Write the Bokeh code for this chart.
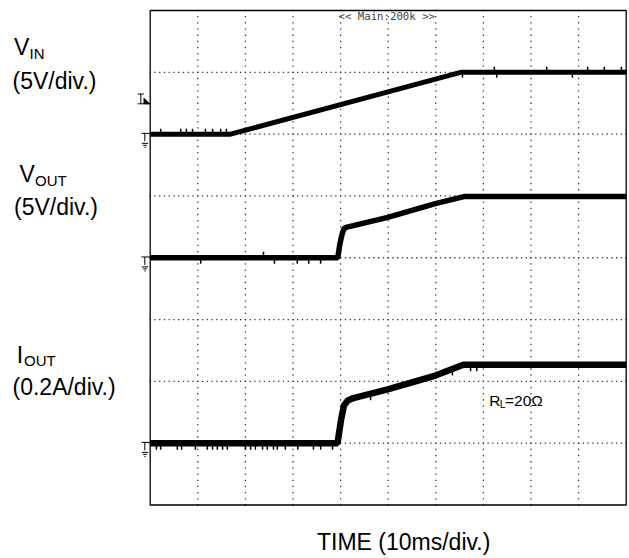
import numpy as np
from bokeh.plotting import figure
from bokeh.models import Range1d, Label
from bokeh.embed import file_html
from bokeh.resources import INLINE

# ---------------- data ----------------
# time in ms (10 ms/div), VIN / VOUT in volts (5 V/div), IOUT in amps (0.2 A/div)
vin_t = [0.0, 16.9, 65.2, 100.0]
vin_v = [0.0, 0.0, 5.0, 5.0]

vout_t = [0.0, 39.4, 39.85, 40.3, 40.7, 41.5, 42.7, 49.9, 59.9, 65.9, 100.0]
vout_v = [0.0, 0.0, 1.13, 1.9, 2.36, 2.5, 2.6, 3.27, 4.38, 4.95, 4.95]

iout_t = [0.0, 39.35, 40.1, 40.7, 41.5, 42.7, 49.9, 59.9, 65.8, 100.0]
iout_a = [0.0, 0.0, 0.076, 0.122, 0.138, 0.146, 0.174, 0.219, 0.254, 0.254]

# noise spikes on the traces: time (ms) and direction (+1 up, -1 down)
vin_spike_t = [2.2, 6.4, 7.6, 8.9, 11.6, 13.1, 14.8, 16.0, 72.3, 83.3, 91.9, 95.4, 99.0, 65.6, 72.8, 88.7]
vin_spike_d = [1, 1, 1, 1, 1, 1, 1, 1, 1, 1, 1, 1, 1, -1, -1, -1]
vout_spike_t = [10.6, 23.8, 26.1, 30.9, 33.3, 35.8]
vout_spike_d = [-1, 1, -1, -1, -1, -1]
iout_spike_t = [1.3, 2.2, 5.7, 6.6, 9.5, 12.0, 13.1, 14.1, 15.2, 16.2, 20.0, 21.1, 22.1,
                23.6, 24.6, 25.9, 26.7, 28.4, 31.0, 34.3, 35.8, 38.3, 46.3, 63.5, 67.3, 68.6]
iout_spike_d = [-1] * 26

# channel settings: (zero level in divisions from bottom, units per division)
vin_zero, vin_scale = 6.0, 5.0
vout_zero, vout_scale = 4.0, 5.0
iout_zero, iout_scale = 1.0, 0.2

# ---------------- layout ----------------
W, H = 628, 557
OFF = 0               # page offset of the figure
PX_MS = 4.76          # pixels per ms
PX_DIV = 61.81        # pixels per vertical division
FL, FB = 149.7, 504.5  # frame left / bottom in page pixels


def tx(px):  # page x -> ms
    return (px - FL) / PX_MS


def dy(py):  # page y -> divisions
    return (FB - py) / PX_DIV


x0, x1 = tx(OFF), tx(OFF + W)
y0, y1 = dy(OFF + H), dy(OFF)

p = figure(width=W, height=H, output_backend="svg", toolbar_location=None,
           x_range=Range1d(x0, x1), y_range=Range1d(y0, y1),
           min_border=0, outline_line_color=None)
p.axis.visible = False
p.grid.visible = False
p.background_fill_color = "white"
p.border_fill_color = "white"

for name, z, s in [("vin", vin_zero, vin_scale), ("vout", vout_zero, vout_scale),
                   ("iout", iout_zero, iout_scale)]:
    p.extra_y_ranges[name] = Range1d((y0 - z) * s, (y1 - z) * s)

# grid dots
gx, gy = [], []
for d in range(1, 8):
    tt = np.arange(0, 100.001, 1.0)
    gx += list(tt)
    gy += [d] * len(tt)
for t in range(10, 100, 10):
    dd = np.arange(0, 8.001, 0.1)
    gx += [t] * len(dd)
    gy += list(dd)
p.scatter(gx, gy, marker="square", size=1.3, color="#333333", line_color=None)

# frame
p.quad(left=0, right=100, bottom=0, top=8, fill_color=None, line_color="black", line_width=1.3)

# traces
p.line(vin_t, vin_v, y_range_name="vin", line_color="black", line_width=5)
p.line(vout_t, vout_v, y_range_name="vout", line_color="black", line_width=5.5)
p.line(iout_t, iout_a, y_range_name="iout", line_color="black", line_width=6.5)

# spikes
for name, st, sd, tt, vv, s, L in [("vin", vin_spike_t, vin_spike_d, vin_t, vin_v, vin_scale, 5.5),
                                  ("vout", vout_spike_t, vout_spike_d, vout_t, vout_v, vout_scale, 6),
                                  ("iout", iout_spike_t, iout_spike_d, iout_t, iout_a, iout_scale, 6.5)]:
    base = np.interp(st, tt, vv)
    off = np.array(sd) * L * s / PX_DIV
    p.segment(x0=st, y0=base, x1=st, y1=base + off, y_range_name=name,
              line_color="black", line_width=1.5)

# ground markers at each channel zero level
for z in [vin_zero, vout_zero, iout_zero]:
    zy = z + 0.8 / PX_DIV
    p.segment(x0=[tx(141), tx(144.3), tx(141.3), tx(142.6), tx(143.9)],
              y0=[zy, zy, zy - 10 / PX_DIV, zy - 12 / PX_DIV, zy - 14 / PX_DIV],
              x1=[tx(149.7), tx(144.3), tx(147.7), tx(146.4), tx(145.3)],
              y1=[zy, zy - 8 / PX_DIV, zy - 10 / PX_DIV, zy - 12 / PX_DIV, zy - 14 / PX_DIV],
              line_color="black", line_width=1)

# trigger marker
p.segment(x0=[tx(137.3), tx(140.3), tx(137.3)], y0=[dy(93.5), dy(93.5), dy(103.3)],
          x1=[tx(143.3), tx(140.3), tx(149.5)], y1=[dy(93.5), dy(103.3), dy(103.3)],
          line_color="black", line_width=1)
p.patch([tx(143.3), tx(149.5), tx(143.3)], [dy(97.5), dy(103.3), dy(103.3)],
        color="black", line_width=0.5)

# texts
FONT = "Liberation Sans"


def lab(text, px, py, size, font=FONT, color="black"):
    # py is the wanted baseline (page pixels); correct for the renderer's baseline offset
    p.add_layout(Label(x=px - OFF, y=H - (py - OFF) + 0.35 * size, x_units="screen", y_units="screen",
                       text=text, text_font=font, text_font_size=f"{size}px",
                       text_color=color, text_baseline="alphabetic"))


lab("V", 13.5, 55, 23)
lab("IN", 29, 58.5, 15)
lab("(5V/div.)", 12, 88.3, 23)
lab("V", 19, 181.7, 23)
lab("OUT", 34.5, 185.5, 15)
lab("(5V/div.)", 13.5, 215, 23)
lab("I", 16.3, 362.5, 23)
lab("OUT", 23.5, 365.5, 15)
lab("(0.2A/div.)", 12, 394.5, 23)
lab("TIME (10ms/div.)", 316.5, 549.3, 23)
lab("R", 488.8, 405, 15.5)
lab("L", 499.3, 407.5, 10.5)
lab("=20Ω", 504.5, 405, 15.5)
p.add_layout(Label(x=338 - OFF, y=H - (16 - OFF), x_units="screen", y_units="screen",
                   text="<< Main:200k >>", text_font="DejaVu Sans Mono", text_font_size="10.7px",
                   text_color="#444444", text_baseline="middle"))

open("out.html", "w").write(file_html(p, INLINE))
